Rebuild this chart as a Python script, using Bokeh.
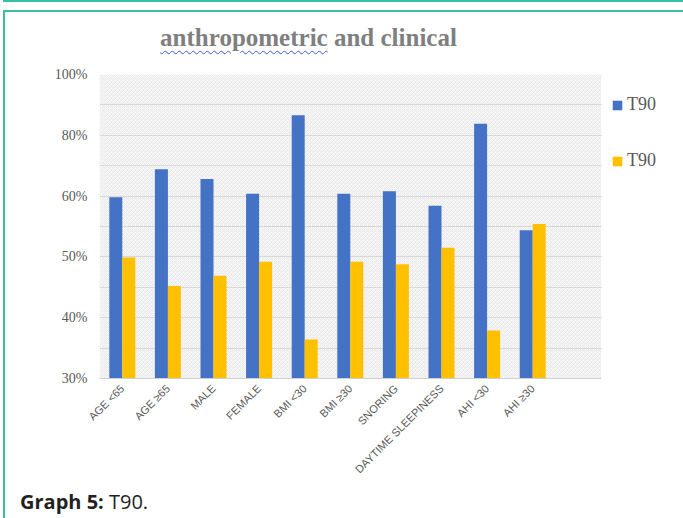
import math
from bokeh.plotting import figure
from bokeh.models import (Range1d, FixedTicker, Legend, LegendItem, BoxAnnotation, Div)
from bokeh.layouts import column
from bokeh.embed import file_html
from bokeh.resources import INLINE

# ---- data (y values in chart units: gridline every 5 units; labels are nonlinear as in the source) ----
categories = ["AGE <65", "AGE \u226565", "MALE", "FEMALE", "BMI <30", "BMI \u226530",
              "SNORING", "DAYTIME SLEEPINESS", "AHI <30", "AHI \u226530"]
t90_blue = [59.8, 64.4, 62.8, 60.4, 73.3, 60.4, 60.8, 58.4, 71.9, 54.4]
t90_yellow = [49.9, 45.2, 46.9, 49.2, 36.4, 49.2, 48.8, 51.5, 37.9, 55.4]
y_ticks = [30, 35, 40, 45, 50, 55, 60, 65, 70, 75, 80]
y_tick_labels = ["30%", "", "40%", "", "50%", "", "60%", "", "80%", "", "100%"]
series_names = ["T90", "T90"]
title_first = "anthropometric"
title_rest = "and clinical"
caption_bold = "Graph 5:"
caption_rest = "T90."

BLUE = "#4472c4"
YELLOW = "#ffc000"
GRAY = "#595959"
TEAL = "#36c1a4"

X0, X1 = -0.5, 10.5          # extent of the category area
p = figure(frame_width=570, frame_height=304, output_backend="svg", toolbar_location=None,
           x_range=Range1d(X0, 12.0), y_range=Range1d(30, 80),
           min_border_left=94, min_border_right=14, min_border_top=10, min_border_bottom=98,
           margin=(0, 0, 0, 0))

p.background_fill_color = "white"
p.border_fill_color = "white"
p.outline_line_color = None

bg = BoxAnnotation(left=X0, right=X1, bottom=30, top=80, fill_color="#f6f6f6", fill_alpha=1,
                   line_alpha=0, hatch_pattern="diagonal_cross",
                   hatch_color="#e4e4e4", hatch_scale=4, hatch_weight=0.7, level="image")
p.add_layout(bg)

xs = list(range(len(categories)))
bw = 0.285
xb = [x - bw / 2 for x in xs]
xy = [x + bw / 2 for x in xs]
r1 = p.vbar(x=xb, top=t90_blue, bottom=30, width=bw, fill_color=BLUE, line_color=None)
r2 = p.vbar(x=xy, top=t90_yellow, bottom=30, width=bw, fill_color=YELLOW, line_color=None)

# axes
p.yaxis.ticker = FixedTicker(ticks=y_ticks)
p.yaxis.major_label_overrides = {t: l for t, l in zip(y_ticks, y_tick_labels)}
p.yaxis.axis_line_color = None
p.yaxis.major_tick_line_color = None
p.yaxis.minor_tick_line_color = None
p.yaxis.major_tick_out = 0
p.yaxis.minor_tick_out = 0
p.yaxis.major_label_text_font = "Liberation Serif"
p.yaxis.major_label_text_font_size = "14px"
p.yaxis.major_label_text_color = GRAY
p.yaxis.major_label_standoff = 12

p.xaxis.ticker = FixedTicker(ticks=xs)
p.xaxis.major_label_overrides = {x: c for x, c in zip(xs, categories)}
p.xaxis.major_label_orientation = math.pi / 4
p.xaxis.bounds = (X0, X1)
p.xaxis.axis_line_color = "#d0d0d0"
p.xaxis.major_tick_line_color = None
p.xaxis.minor_tick_line_color = None
p.xaxis.major_tick_out = 0
p.xaxis.minor_tick_out = 0
p.xaxis.major_label_text_font = "Liberation Sans"
p.xaxis.major_label_text_font_size = "11px"
p.xaxis.major_label_text_color = GRAY
p.xaxis.major_label_standoff = 8

p.xgrid.grid_line_color = None
p.ygrid.grid_line_color = "#d9d9d9"
p.ygrid.grid_line_width = 1
p.ygrid.cross_bounds = (X0, X1)

# legend (inside the extended frame, right of the category area)
legend = Legend(items=[LegendItem(label=series_names[0], renderers=[r1]),
                       LegendItem(label=series_names[1], renderers=[r2])],
                location=(512, 207), orientation="vertical",
                glyph_width=12, glyph_height=12, label_height=20, spacing=35,
                label_standoff=4, padding=0, margin=0,
                label_text_font="Liberation Serif", label_text_font_size="18px",
                label_text_color=GRAY, border_line_color=None, background_fill_alpha=0)
p.add_layout(legend)

title_div = Div(width=607, height=52, margin=(0, 0, 0, 0), text=(
    '<div style="width:607px;text-align:center;font-family:\'Liberation Serif\';'
    'font-weight:bold;font-size:25px;line-height:52px;color:#7f7f7f;white-space:nowrap">'
    '<span style="text-decoration:underline wavy #3b5bd6;text-decoration-thickness:1px;'
    'text-underline-offset:4px">' + title_first + '</span> ' + title_rest + '</div>'))

caption_div = Div(width=400, height=40, margin=(0, 0, 0, 0), text=(
    '<div style="font-family:\'Open Sans\';font-size:20px;line-height:24px;padding-top:8px;'
    'padding-left:15px;color:#231f20;white-space:nowrap"><b>' + caption_bold + '</b> '
    + caption_rest + '</div>'))

layout = column(title_div, p, caption_div, margin=(10, 0, 0, 3),
                styles={"border-left": "2px solid " + TEAL, "border-top": "2px solid " + TEAL,
                        "box-shadow": "0 -8px 0 0 white, 0 -10px 0 0 " + TEAL})

open("out.html", "w").write(file_html(layout, INLINE))
